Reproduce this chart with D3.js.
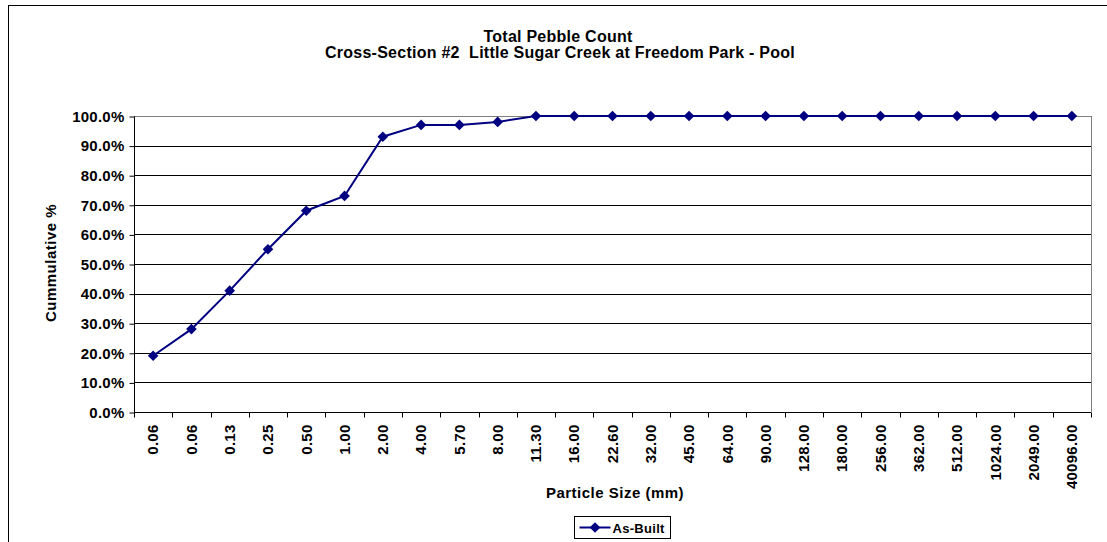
<!DOCTYPE html>
<html>
<head>
<meta charset="utf-8">
<script src="https://cdn.jsdelivr.net/npm/d3@7"></script>
<style>
  body { margin: 0; background: #fff; }
  svg { display: block; font-family: "Liberation Sans", Arial, sans-serif; }
  .axis text { font-size: 15px; font-weight: bold; fill: #000; letter-spacing: 0.25px; }
</style>
</head>
<body>
<svg id="chart" width="1107" height="542"></svg>
<script>
var sizes = ["0.06", "0.06", "0.13", "0.25", "0.50", "1.00", "2.00", "4.00", "5.70", "8.00",
  "11.30", "16.00", "22.60", "32.00", "45.00", "64.00", "90.00", "128.00", "180.00", "256.00",
  "362.00", "512.00", "1024.00", "2049.00", "40096.00"];
var asBuilt = [19, 28, 41, 55, 68, 73, 93, 97, 97, 98,
  100, 100, 100, 100, 100, 100, 100, 100, 100, 100,
  100, 100, 100, 100, 100];
var yTicks = [0, 10, 20, 30, 40, 50, 60, 70, 80, 90, 100];

var margin = {top: 116, right: 16, bottom: 130, left: 134};
var width = 1107 - margin.left - margin.right;
var height = 542 - margin.top - margin.bottom;

var svg = d3.select("#chart");

// outer chart frame
svg.append("rect")
  .attr("x", 8.5).attr("y", 5.5)
  .attr("width", 1120).attr("height", 560)
  .attr("fill", "none").attr("stroke", "#000").attr("stroke-width", 1);

var vis = svg.append("g")
  .attr("transform", "translate(" + margin.left + "," + margin.top + ")");

var xscale = d3.scaleBand()
  .domain(d3.range(sizes.length))
  .range([0, width]);

var yscale = d3.scaleLinear()
  .domain([0, 100])
  .range([height, 0]);

// gridlines
vis.selectAll(".grid")
  .data(yTicks.slice(1))
  .enter().append("line")
    .attr("x1", 0).attr("x2", width)
    .attr("y1", function(d) { return Math.round(yscale(d)) + 0.5; })
    .attr("y2", function(d) { return Math.round(yscale(d)) + 0.5; })
    .attr("stroke", function(d) { return d === 100 ? "#808080" : "#000"; })
    .attr("stroke-width", 1);

// plot area right border
vis.append("line")
  .attr("x1", width + 0.5).attr("x2", width + 0.5)
  .attr("y1", yscale(100)).attr("y2", height)
  .attr("stroke", "#808080");

var yaxis = d3.axisLeft(yscale)
  .tickValues(yTicks)
  .tickSize(5)
  .tickPadding(5)
  .tickFormat(function(d) { return d.toFixed(1) + "%"; });
vis.append("g")
  .attr("class", "axis")
  .attr("transform", "translate(0.5,0.5)")
  .call(yaxis)
  .call(function(g) { g.select(".domain").attr("d", "M0," + yscale(100) + "V" + height); });

var xaxis = d3.axisBottom(xscale)
  .tickSize(0)
  .tickFormat(function(i) { return sizes[i]; });
var xg = vis.append("g")
  .attr("class", "axis")
  .attr("transform", "translate(0," + (Math.round(height) + 0.5) + ")")
  .call(xaxis);
xg.select(".domain").attr("d", "M0,0H" + width);
xg.selectAll(".tick text")
  .attr("transform", "rotate(-90)")
  .attr("text-anchor", "end")
  .attr("x", -12)
  .attr("y", 0)
  .attr("dy", "0.35em");
// tick marks at category boundaries
xg.selectAll(".bound")
  .data(d3.range(sizes.length + 1))
  .enter().append("line")
    .attr("x1", function(i) { return Math.round(i * xscale.step()) + 0.5; })
    .attr("x2", function(i) { return Math.round(i * xscale.step()) + 0.5; })
    .attr("y1", 0).attr("y2", 5)
    .attr("stroke", "#000");

var line = d3.line()
  .x(function(d, i) { return xscale(i) + xscale.bandwidth() / 2; })
  .y(function(d) { return yscale(d); });

vis.append("path")
  .datum(asBuilt)
  .attr("d", line)
  .attr("fill", "none")
  .attr("stroke", "#000080")
  .attr("stroke-width", 2);

var diamond = d3.symbol().type(d3.symbolDiamond2).size(72);
vis.selectAll(".pt")
  .data(asBuilt)
  .enter().append("path")
    .attr("transform", function(d, i) {
      return "translate(" + (xscale(i) + xscale.bandwidth() / 2) + "," + yscale(d) + ")";
    })
    .attr("d", diamond)
    .attr("fill", "#000080");

// titles
function label(x, y, txt, size, spacing) {
  return svg.append("text")
    .attr("x", x).attr("y", y)
    .attr("text-anchor", "middle")
    .style("font-size", size + "px").style("font-weight", "bold")
    .style("letter-spacing", spacing + "px")
    .style("white-space", "pre")
    .text(txt);
}
label(558, 42, "Total Pebble Count", 16, 0.25);
label(560, 58, "Cross-Section #2  Little Sugar Creek at Freedom Park - Pool", 16, 0.25);
label(615, 498, "Particle Size (mm)", 15, 0.5);
label(0, 0, "Cummulative %", 15, 0.5)
  .attr("transform", "translate(56," + 263 + ") rotate(-90)");

// legend
var lg = svg.append("g").attr("transform", "translate(574.5,516.5)");
lg.append("rect")
  .attr("width", 96).attr("height", 22)
  .attr("fill", "#fff").attr("stroke", "#000");
lg.append("line")
  .attr("x1", 5).attr("x2", 36).attr("y1", 11).attr("y2", 11)
  .attr("stroke", "#000080").attr("stroke-width", 2);
lg.append("path")
  .attr("transform", "translate(20.5,11)")
  .attr("d", diamond)
  .attr("fill", "#000080");
lg.append("text")
  .attr("x", 38).attr("y", 16)
  .style("font-size", "13px").style("font-weight", "bold")
  .style("letter-spacing", "0.3px")
  .text("As-Built");
</script>
</body>
</html>
